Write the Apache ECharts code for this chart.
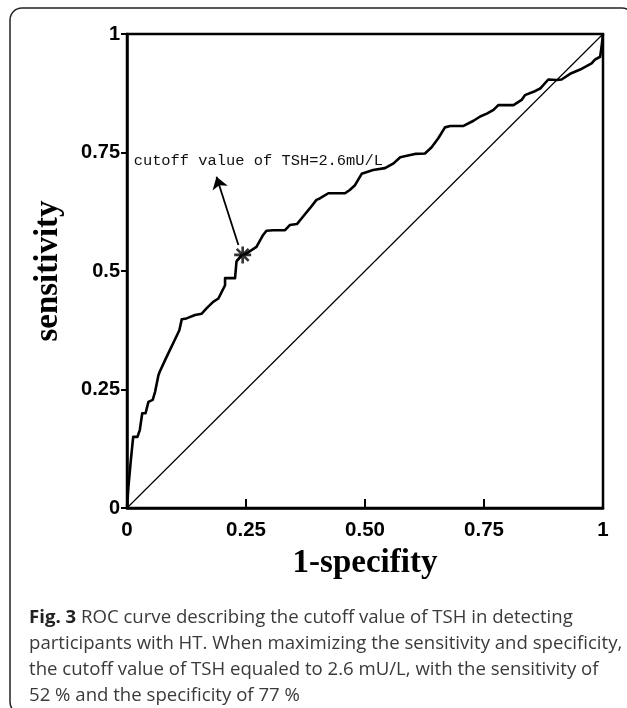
<!DOCTYPE html>
<html>
<head>
<meta charset="utf-8">
<script src="https://cdn.jsdelivr.net/npm/echarts/dist/echarts.min.js"></script>
<style>
html,body{margin:0;padding:0;background:#fff;}
#chart{width:627px;height:708px;}
</style>
</head>
<body>
<div id="chart"></div>
<script>
// ROC curve: 1-specificity (x) and sensitivity (y)
var fpr = [0,0.003,0.008,0.013,0.022,0.027,0.032,0.039,0.045,0.054,0.059,0.066,0.069,0.08,0.09,0.1,0.11,0.115,0.125,0.143,0.157,0.167,0.181,0.192,0.199,0.206,0.206,0.227,0.23,0.241,0.251,0.272,0.286,0.293,0.307,0.332,0.342,0.357,0.37,0.384,0.398,0.405,0.423,0.458,0.468,0.479,0.493,0.517,0.542,0.56,0.574,0.588,0.605,0.626,0.64,0.654,0.668,0.679,0.707,0.728,0.742,0.756,0.77,0.78,0.812,0.829,0.836,0.854,0.868,0.885,0.903,0.913,0.931,0.952,0.976,0.983,0.994,0.997,1];
var tpr = [0,0.045,0.10,0.15,0.15,0.165,0.20,0.20,0.224,0.228,0.245,0.28,0.288,0.312,0.333,0.354,0.375,0.398,0.40,0.407,0.41,0.421,0.435,0.442,0.456,0.47,0.485,0.485,0.52,0.534,0.537,0.551,0.576,0.585,0.586,0.586,0.597,0.599,0.615,0.632,0.65,0.653,0.664,0.664,0.671,0.681,0.705,0.713,0.717,0.727,0.74,0.743,0.747,0.748,0.761,0.78,0.803,0.806,0.806,0.817,0.826,0.832,0.84,0.85,0.85,0.861,0.871,0.878,0.885,0.904,0.903,0.904,0.916,0.925,0.938,0.946,0.952,0.973,1];
// reference (chance) line
var diagX = [0, 1];
var diagY = [0, 1];
// cutoff point and its annotation
var cutoffPoint = [0.243, 0.534];
var arrowFrom = [0.234, 0.555];
var arrowTo = [0.188, 0.699];
var annotationAt = [0.014, 0.732];
var annotationText = 'cutoff value of TSH=2.6mU/L';
// tick labels
var xTickLabels = ['0', '0.25', '0.50', '0.75', '1'];
var yTickLabels = ['0', '0.25', '0.5', '0.75', '1'];
var xTitle = '1-specifity';
var yTitle = 'sensitivity';
var captionBold = 'Fig. 3';
var captionLines = [
  ' ROC curve describing the cutoff value of TSH in detecting',
  'participants with HT. When maximizing the sensitivity and specificity,',
  'the cutoff value of TSH equaled to 2.6 mU/L, with the sensitivity of',
  '52 % and the specificity of 77 %'
];

var rocData = fpr.map(function (x, i) { return [x, tpr[i]]; });
var diagData = diagX.map(function (x, i) { return [x, diagY[i]]; });

var chart = echarts.init(document.getElementById('chart'), null, {renderer: 'canvas'});
chart.setOption({
  animation: false,
  backgroundColor: '#fff',
  graphic: [{
    type: 'rect',
    shape: {x: 10, y: 8, width: 624, height: 706, r: 12},
    style: {fill: 'none', stroke: '#222', lineWidth: 1.5},
    silent: true
  }],
  title: {
    left: 24,
    top: 600,
    text: '{b|' + captionBold + '}' + captionLines.join('\n'),
    textStyle: {
      fontFamily: 'Open Sans',
      fontWeight: 'normal',
      fontSize: 18.6,
      color: '#3a3a3a',
      lineHeight: 26,
      rich: {
        b: {fontFamily: 'Open Sans', fontWeight: 'bold', fontSize: 18.6, color: '#222', lineHeight: 26}
      }
    }
  },
  grid: {
    left: 127, top: 34, width: 476, height: 474,
    show: true, borderColor: '#000', borderWidth: 2.5, backgroundColor: 'transparent'
  },
  xAxis: {
    type: 'value', min: 0, max: 1, interval: 0.25,
    name: xTitle, nameLocation: 'middle', nameGap: 39,
    nameTextStyle: {fontFamily: 'Liberation Serif', fontWeight: 'bold', fontSize: 33, color: '#000'},
    axisLine: {show: true, lineStyle: {color: '#000', width: 2.5}},
    axisTick: {show: true, inside: true, length: 9, lineStyle: {color: '#000', width: 2}},
    axisLabel: {
      margin: 12, fontFamily: 'Liberation Sans', fontWeight: 'bold', fontSize: 20.5, color: '#000',
      formatter: function (v) { return xTickLabels[Math.round(v / 0.25)]; }
    },
    splitLine: {show: false}
  },
  yAxis: {
    type: 'value', min: 0, max: 1, interval: 0.25,
    name: yTitle, nameLocation: 'middle', nameGap: 62, nameRotate: 90,
    nameTextStyle: {fontFamily: 'Liberation Serif', fontWeight: 'bold', fontSize: 33, color: '#000'},
    axisLine: {show: true, lineStyle: {color: '#000', width: 2.5}},
    axisTick: {show: true, inside: false, length: 6, lineStyle: {color: '#000', width: 2}},
    axisLabel: {
      margin: 7, fontFamily: 'Liberation Sans', fontWeight: 'bold', fontSize: 20, color: '#000',
      formatter: function (v) { return yTickLabels[Math.round(v / 0.25)]; }
    },
    splitLine: {show: false}
  },
  series: [
    {
      name: 'chance', type: 'line', data: diagData, symbol: 'none', silent: true,
      lineStyle: {color: '#000', width: 1.2}
    },
    {
      name: 'ROC', type: 'line', data: rocData, symbol: 'none', silent: true,
      lineStyle: {color: '#000', width: 2.6, join: 'round'}
    },
    {
      name: 'cutoff', type: 'scatter', data: [cutoffPoint], silent: true,
      symbol: 'path://M0,-10L0,10M-10,0L10,0M-7,-7L7,7M-7,7L7,-7',
      symbolSize: 17,
      itemStyle: {color: 'transparent', borderColor: '#000', borderWidth: 2.6},
      markLine: {
        silent: true,
        symbol: ['none', 'arrow'],
        symbolSize: 12,
        label: {show: false},
        lineStyle: {color: '#000', width: 1.8, type: 'solid'},
        data: [[{coord: arrowFrom}, {coord: arrowTo}]]
      },
      markPoint: {
        silent: true,
        symbol: 'rect', symbolSize: 0,
        label: {
          show: true, position: 'right', distance: 0,
          fontFamily: 'Liberation Mono', fontSize: 15.4, color: '#111',
          formatter: annotationText
        },
        data: [{coord: annotationAt}]
      }
    }
  ]
});
</script>
</body>
</html>
